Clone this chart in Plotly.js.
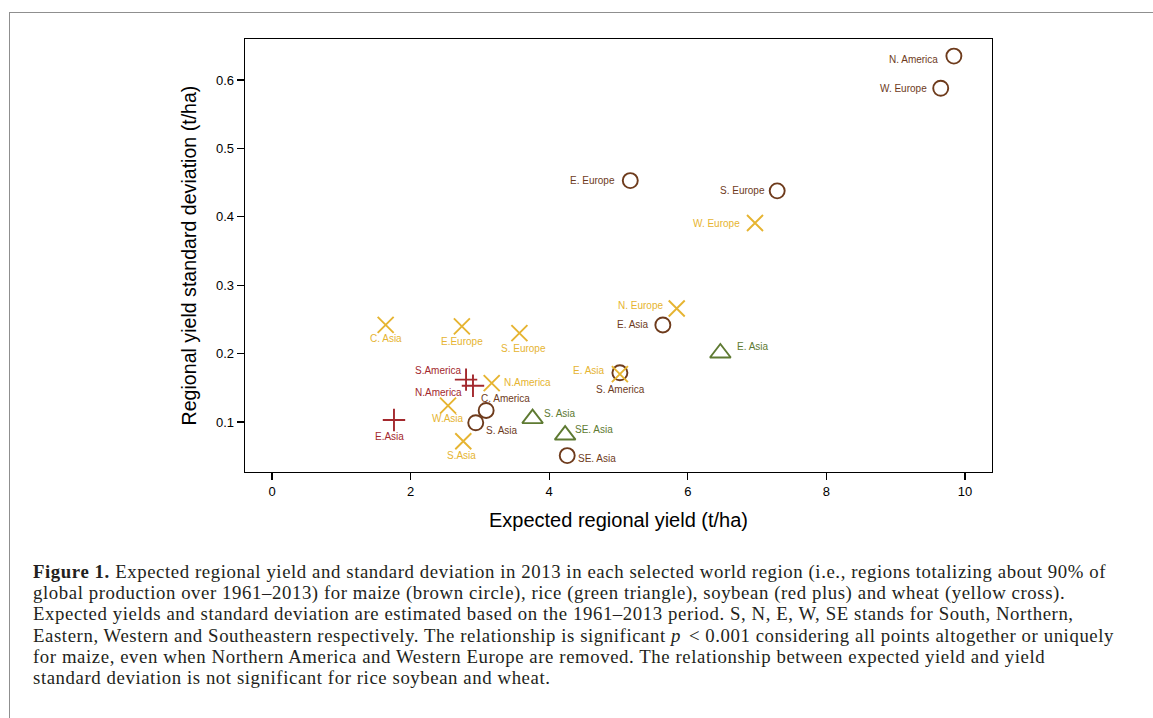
<!DOCTYPE html>
<html>
<head>
<meta charset="utf-8">
<script src="https://cdn.plot.ly/plotly-3.0.1.min.js"></script>
<style>
  html, body { margin: 0; padding: 0; background: #fff; }
  #wrap { position: relative; width: 1153px; height: 718px; overflow: hidden; background: #fff; }
  #frame { position: absolute; left: 9px; top: 12px; width: 1200px; height: 800px;
           border-top: 1.5px solid #8f8f8f; border-left: 1.5px solid #8f8f8f; }
  #chart { position: absolute; left: 0; top: 0; width: 1153px; height: 718px; }
  #caption { position: absolute; left: 33px; top: 561px; width: 1115px;
             font-family: "Liberation Serif", "DejaVu Serif", serif; font-size: 18.8px;
             letter-spacing: 0.58px; line-height: 21.2px; color: #231f20; white-space: nowrap; }
  #caption .op { display: inline-block; margin: 0 5px 0 8px; }
</style>
</head>
<body>
<div id="wrap">
  <div id="frame"></div>
  <div id="chart"></div>
  <div id="caption">
    <b>Figure 1.</b> Expected regional yield and standard deviation in 2013 in each selected world region (i.e., regions totalizing about 90% of<br>
    global production over 1961–2013) for maize (brown circle), rice (green triangle), soybean (red plus) and wheat (yellow cross).<br>
    Expected yields and standard deviation are estimated based on the 1961–2013 period. S, N, E, W, SE stands for South, Northern,<br>
    Eastern, Western and Southeastern respectively. The relationship is significant <i>p</i><span class="op">&lt;</span>0.001 considering all points altogether or uniquely<br>
    for maize, even when Northern America and Western Europe are removed. The relationship between expected yield and yield<br>
    standard deviation is not significant for rice soybean and wheat.
  </div>
</div>
<script>
// ---- Data ----
const maizeRegions = ['N. America', 'W. Europe', 'E. Europe', 'S. Europe', 'E. Asia', 'S. America', 'C. America', 'S. Asia', 'SE. Asia'];
const maizeYield   = [9.84, 9.65, 5.17, 7.29, 5.64, 5.02, 3.09, 2.94, 4.26];
const maizeSD      = [0.635, 0.588, 0.453, 0.438, 0.242, 0.172, 0.117, 0.099, 0.051];

const riceRegions = ['S. Asia', 'SE. Asia', 'E. Asia'];
const riceYield   = [3.76, 4.23, 6.47];
const riceSD      = [0.105, 0.081, 0.201];

const soyRegions = ['S.America', 'N.America', 'E.Asia'];
const soyYield   = [2.80, 2.90, 1.76];
const soySD      = [0.162, 0.153, 0.103];

const wheatRegions = ['C. Asia', 'E.Europe', 'S. Europe', 'N.America', 'W.Asia', 'S.Asia', 'E. Asia', 'N. Europe', 'W. Europe'];
const wheatYield   = [1.64, 2.74, 3.57, 3.17, 2.54, 2.76, 5.02, 5.84, 6.97];
const wheatSD      = [0.242, 0.240, 0.230, 0.157, 0.124, 0.072, 0.170, 0.266, 0.391];

const xTicks = [0, 2, 4, 6, 8, 10];
const yTicks = [0.1, 0.2, 0.3, 0.4, 0.5, 0.6];

// ---- Styles ----
const colMaize = '#6e3b1c';
const colRice  = '#5e7a32';
const colSoy   = '#a3282d';
const colWheat = '#e6b431';
const FONT = 'Liberation Sans, Arial, Helvetica, sans-serif';

// label placement: [xanchor, xshift(px), yshift(px)] relative to each point
const maizeLab = [['right', -15, -3], ['right', -13, 0], ['right', -14, 0], ['right', -11, 0], ['right', -13, 0],
                  ['center', 1, -17], ['left', -6, 12], ['left', 9, -8], ['left', 10, -3]];
const riceLab  = [['left', 10, 5], ['left', 9, 6], ['left', 16, 6]];
const soyLab   = [['right', -3, 9], ['right', -10, -7], ['center', -4, -16]];
const wheatLab = [['center', 0, -14], ['center', 0, -15], ['center', 4, -15], ['left', 11, 1], ['center', 0, -13],
                  ['center', -2, -14], ['right', -14, 4], ['right', -13, 3], ['right', -14, 0]];

function trace(x, y, t, color, symbol, size, lw) {
  return {
    type: 'scatter', mode: 'markers', x: x, y: y, text: t,
    marker: { symbol: symbol, size: size, color: color, line: { color: color, width: lw } },
    cliponaxis: false, hoverinfo: 'x+y+text', showlegend: false
  };
}

function labels(x, y, t, lab, color) {
  return t.map((s, i) => ({
    x: x[i], y: y[i], xref: 'x', yref: 'y', text: s, showarrow: false,
    xanchor: lab[i][0], yanchor: 'middle', xshift: lab[i][1], yshift: lab[i][2],
    borderpad: 0, font: { family: FONT, size: 10, color: color }
  }));
}

const data = [
  trace(maizeYield, maizeSD, maizeRegions, colMaize, 'circle-open', 15, 1.9),
  trace(riceYield, riceSD, riceRegions, colRice, 'triangle-up-open', 18, 1.9),
  trace(soyYield, soySD, soyRegions, colSoy, 'cross-thin-open', 16, 1.9),
  trace(wheatYield, wheatSD, wheatRegions, colWheat, 'x-thin-open', 16, 1.9)
];

const annotations = [].concat(
  labels(maizeYield, maizeSD, maizeRegions, maizeLab, colMaize),
  labels(riceYield, riceSD, riceRegions, riceLab, colRice),
  labels(soyYield, soySD, soyRegions, soyLab, colSoy),
  labels(wheatYield, wheatSD, wheatRegions, wheatLab, colWheat)
);

const axisCommon = {
  showline: true, mirror: true, linecolor: '#000', linewidth: 1.4,
  ticks: 'outside', ticklen: 7, tickwidth: 1.2, tickcolor: '#000',
  showgrid: false, zeroline: false,
  tickfont: { family: FONT, size: 13, color: '#000' }
};

const layout = {
  width: 1153, height: 718,
  margin: { l: 245, r: 161, t: 39, b: 246 },
  paper_bgcolor: 'rgba(0,0,0,0)', plot_bgcolor: '#fff',
  annotations: annotations,
  xaxis: Object.assign({}, axisCommon, {
    range: [-0.39, 10.39], tickvals: xTicks, ticktext: xTicks.map(String),
    title: { text: 'Expected regional yield (t/ha)', font: { family: FONT, size: 20, color: '#000' }, standoff: 15 }
  }),
  yaxis: Object.assign({}, axisCommon, {
    range: [0.027, 0.66], tickvals: yTicks, ticktext: yTicks.map(v => v.toFixed(1)),
    title: { text: 'Regional yield standard deviation (t/ha)', font: { family: FONT, size: 19.6, color: '#000' }, standoff: 14 }
  })
};

Plotly.newPlot('chart', data, layout, { displayModeBar: false, staticPlot: true });
</script>
</body>
</html>
